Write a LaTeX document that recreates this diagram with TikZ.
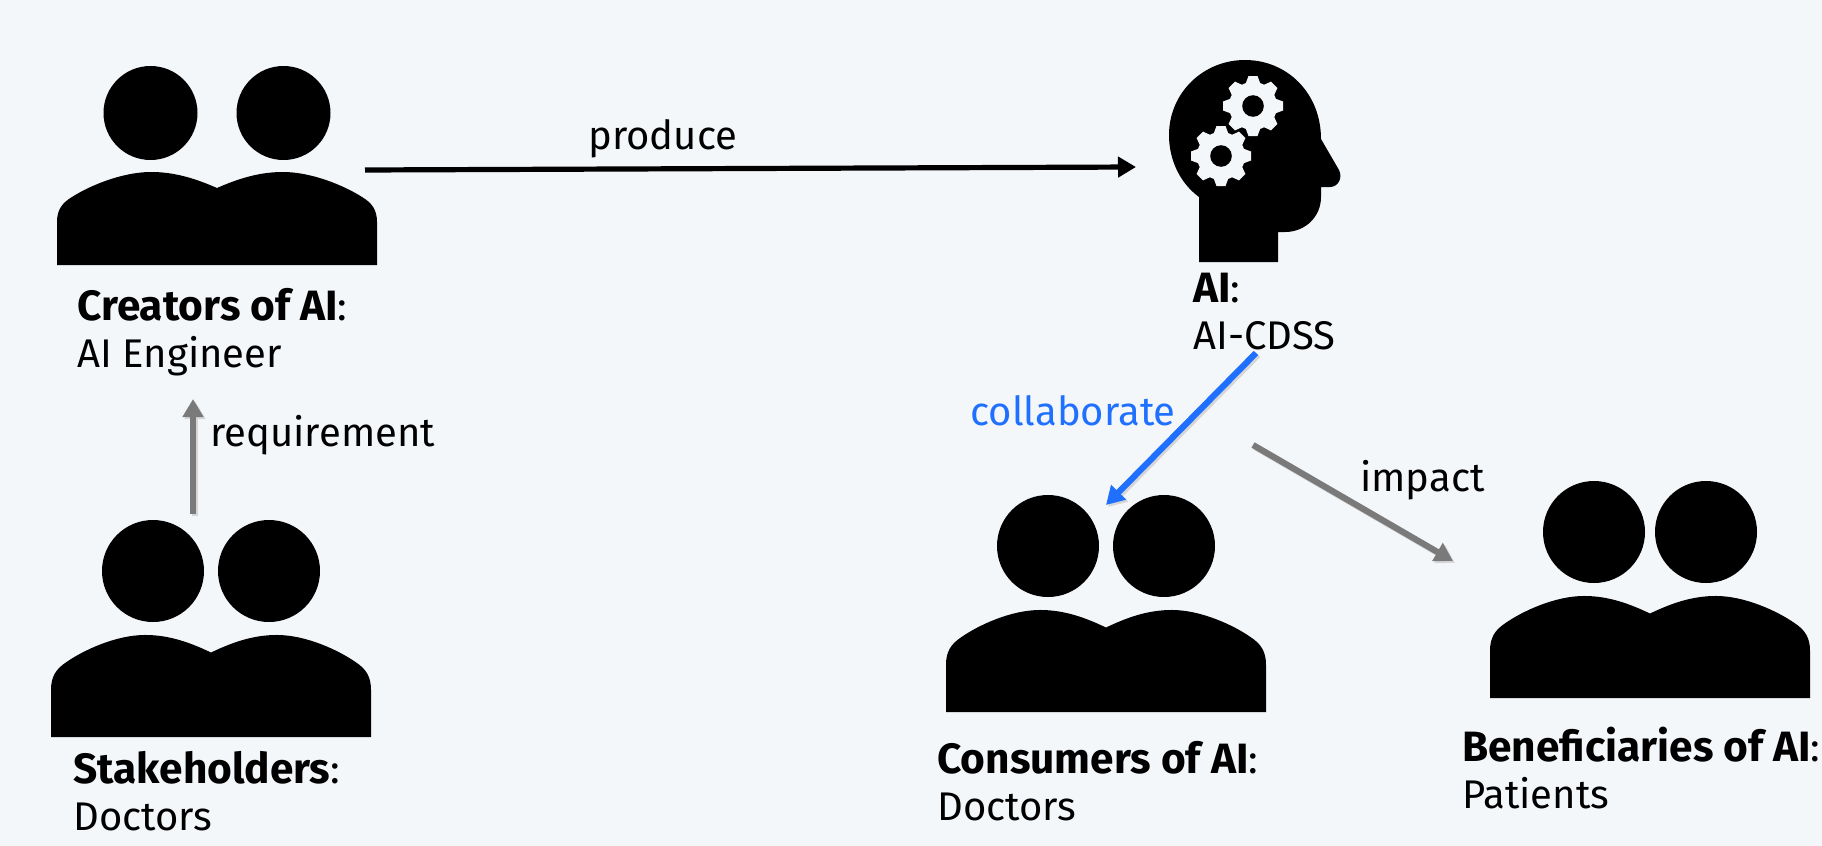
\documentclass[tikz,border=0pt]{standalone}
\usepackage{fontspec}
\setmainfont{Fira Sans}
\usepackage{xcolor}
\usetikzlibrary{arrows.meta, positioning, calc}

\definecolor{pagebg}{HTML}{F4F7FA}
\definecolor{linkblue}{HTML}{1F70FF}
\definecolor{linkgray}{HTML}{7A7A7A}

\newcommand{\bfl}[1]{{\fontsize{21.2}{24}\selectfont\textbf{#1}}}

\begin{document}
\begin{tikzpicture}[
    x=0.5pt, y=-0.5pt,
    lbl/.style  = {anchor=base west, inner sep=0pt, font=\fontsize{20}{24}\selectfont},
    dot/.style  = {circle, fill=black, inner sep=0pt},
    arr/.style  = {-{Triangle[length=9pt,width=10pt]}, line width=3.1pt},
    soft/.style = {preaction={draw, black!16, line width=3.1pt, transform canvas={shift={(1pt,-1pt)}}}}
  ]

  \fill[pagebg] (0,0) rectangle (1822,846);

  % ----------------------------------------------------------------
  % People:  name / body centre / half gap of heads / head radius / body scale
  % ----------------------------------------------------------------
  \foreach \who/\xx/\yy/\gap/\rad/\hh/\bs in {
      creators/217/265/66.5/47/152/1,
      holders/211/737/58/51/166/1.097,
      consumers/1106/712/58/51/166/1.097,
      patients/1650/698/56/51/166/1.097}{
    \begin{scope}[shift={(\xx,\yy)}]
      \node[dot, minimum size=\rad pt] (\who1) at (-\gap,-\hh) {};
      \node[dot, minimum size=\rad pt] (\who2) at ( \gap,-\hh) {};
      \fill[yscale=\bs] (-160,0) -- (-160,-43)
        .. controls (-160,-55) and (-155,-62) .. (-145,-68)
        .. controls (-128,-79) and (-95,-93) .. (-66,-93)
        .. controls (-45,-93) and (-25,-88) .. (0,-77)
        .. controls (25,-88) and (45,-93) .. (66,-93)
        .. controls (95,-93) and (128,-79) .. (145,-68)
        .. controls (155,-62) and (160,-55) .. (160,-43)
        -- (160,0) -- cycle;
    \end{scope}
  }

  % ----------------------------------------------------------------
  % Head with the two gears
  % ----------------------------------------------------------------
  \fill (1199,262) -- (1199,197)
    .. controls (1180,183) and (1169,160) .. (1169,135)
    .. controls (1169,93) and (1203,60) .. (1245,60)
    .. controls (1287,60) and (1321,93) .. (1321,139)
    -- (1339,170)
    .. controls (1343,178) and (1338,187) .. (1330,187)
    -- (1321,187) -- (1321,197)
    .. controls (1321,217) and (1305,232) .. (1285,232)
    -- (1278,232) -- (1278,262) -- cycle;
  \foreach \gx/\gy in {1253/106, 1221/156}{
    \begin{scope}[shift={(\gx,\gy)}]
      \fill[pagebg] (0,0) circle (12pt);
      \foreach \ang in {0,45,...,315}{
        \fill[pagebg, rotate=\ang] (22,-7.5) -- (30,-4.5) -- (30,4.5) -- (22,7.5) -- cycle;
      }
      \fill (0,0) circle (5.4pt);
    \end{scope}
  }

  % ----------------------------------------------------------------
  % Labels
  % ----------------------------------------------------------------
  \node[lbl] (creatorsA) at (77,320) {\bfl{Creators of AI}:};
  \node[lbl] (creatorsB) at (77,367) {AI Engineer};
  \node[lbl] (aiA) at (1193,302) {\bfl{AI}:};
  \node[lbl] (aiB) at (1193,349) {AI-CDSS};
  \node[lbl] (holdersA) at (73,783) {\bfl{Stakeholders}:};
  \node[lbl] (holdersB) at (73,830) {Doctors};
  \node[lbl] (consumersA) at (937,773) {\bfl{Consumers of AI}:};
  \node[lbl] (consumersB) at (937,820) {Doctors};
  \node[lbl] (patientsA) at (1462,761) {\bfl{Beneficiaries of AI}:};
  \node[lbl] (patientsB) at (1462,808) {Patients};

  \node[lbl] (produce) at (588,149) {produce};
  \node[lbl] (requirement) at (210,446) {requirement};
  \node[lbl, text=linkblue] (collaborate) at (970,425) {collaborate};
  \node[lbl] (impact) at (1360,491) {impact};

  % ----------------------------------------------------------------
  % Connectors, free ends are coordinates
  % ----------------------------------------------------------------
  \coordinate (prodA) at (365,170);
  \coordinate (prodB) at (1136,167);
  \coordinate (reqA)  at (193,514);
  \coordinate (reqB)  at (193,399);
  \coordinate (colA)  at (1256,353);
  \coordinate (colB)  at (1106,505);
  \coordinate (impA)  at (1253,445);
  \coordinate (impB)  at (1453,561);

  \draw[arr, line width=2.6pt] (prodA) -- (prodB);
  \draw[arr, linkgray, soft] (reqA) -- (reqB);
  \draw[arr, linkblue, soft] (colA) -- (colB);
  \draw[arr, linkgray, soft] (impA) -- (impB);

\end{tikzpicture}
\end{document}
